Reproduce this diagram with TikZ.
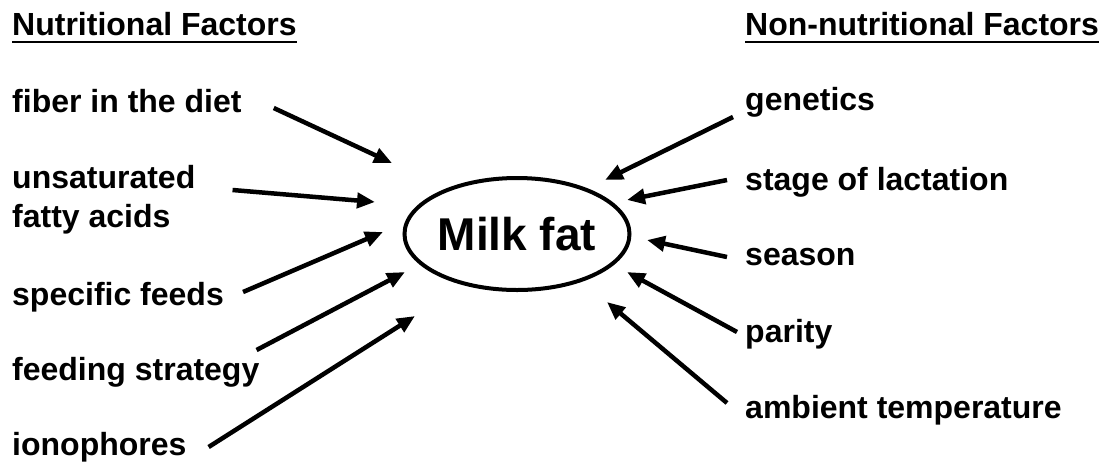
\documentclass[tikz,border=0pt]{standalone}
\usepackage{fontspec}
\setmainfont{Liberation Sans}
\usetikzlibrary{arrows.meta,shapes.geometric}

\begin{document}
\begin{tikzpicture}[
  x=1pt, y=-1pt,
  >={Triangle[length=18pt,width=15pt]},
  factor/.style={anchor=base west, inner sep=0pt,
    font=\fontsize{32}{39}\selectfont\bfseries},
  arr/.style={->, line width=4.5pt}
]
  \useasboundingbox (0,0) rectangle (1113,467);

  % Centre
  \node[draw, ellipse, line width=4pt, minimum width=225pt,
    minimum height=112pt, inner sep=0pt,
    font=\fontsize{46}{50}\selectfont\bfseries] (milk) at (517,234) {Milk fat};

  % Headings
  \node[factor] (nutr) at (12,35) {Nutritional Factors};
  \node[factor] (nonnutr) at (745,35) {Non-nutritional Factors};
  \draw[line width=2.5pt] ([yshift=-7pt]nutr.base west) -- ([yshift=-7pt]nutr.base east);
  \draw[line width=2.5pt] ([yshift=-7pt]nonnutr.base west) -- ([yshift=-7pt]nonnutr.base east);

  % Nutritional factors
  \node[factor] (fiber) at (12,112) {fiber in the diet};
  \node[factor, align=left] (unsat) at (12,227) {unsaturated\\fatty acids};
  \node[factor] (feeds) at (12,305) {specific feeds};
  \node[factor] (strategy) at (12,380) {feeding strategy};
  \node[factor] (iono) at (12,455) {ionophores};

  % Non-nutritional factors
  \node[factor] (genetics) at (745,110) {genetics};
  \node[factor] (stage) at (745,190) {stage of lactation};
  \node[factor] (season) at (745,265) {season};
  \node[factor] (parity) at (745,342) {parity};
  \node[factor] (ambient) at (745,418) {ambient temperature};

  % Arrow heads round the ellipse
  \coordinate (h-fiber) at (392,163);
  \coordinate (h-unsat) at (375,202);
  \coordinate (h-feeds) at (383,232);
  \coordinate (h-strategy) at (405,272);
  \coordinate (h-iono) at (415,316);
  \coordinate (h-genetics) at (605,180);
  \coordinate (h-stage) at (627,200);
  \coordinate (h-season) at (647,240);
  \coordinate (h-parity) at (627,272);
  \coordinate (h-ambient) at (607,302);

  % Arrows
  \draw[arr] ([shift={(32,-4)}]fiber.base east) -- (h-fiber);
  \draw[arr] ([shift={(37,-37)}]unsat.base east) -- (h-unsat);
  \draw[arr] ([shift={(19,-13)}]feeds.base east) -- (h-feeds);
  \draw[arr] ([shift={(-3,-30)}]strategy.base east) -- (h-strategy);
  \draw[arr] ([shift={(22,-8)}]iono.base east) -- (h-iono);
  \draw[arr] ([shift={(-12,7)}]genetics.base west) -- (h-genetics);
  \draw[arr] ([shift={(-18,-10)}]stage.base west) -- (h-stage);
  \draw[arr] ([shift={(-18,-8)}]season.base west) -- (h-season);
  \draw[arr] ([shift={(-8,-10)}]parity.base west) -- (h-parity);
  \draw[arr] ([shift={(-18,-15)}]ambient.base west) -- (h-ambient);
\end{tikzpicture}
\end{document}
